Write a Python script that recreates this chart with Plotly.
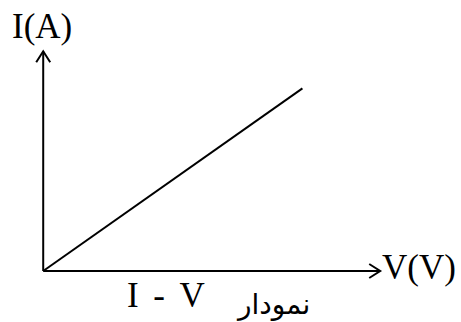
import plotly.graph_objects as go

# I-V characteristic (ohmic conductor): straight line through the origin
voltage = [0, 6.0]
current = [0, 4.2]

axis_end_v = 7.8   # where the V arrow ends
axis_end_i = 5.05  # where the I arrow ends

x_label = "V(V)"
y_label = "I(A)"
caption_en = "I - V"
caption_fa = "نمودار"

W, H = 461, 322
x_range = [-1.0, 9.67]
y_range = [-1.172, 6.23]
px_x = W / (x_range[1] - x_range[0])
px_y = H / (y_range[1] - y_range[0])


def chevron(tip_x, tip_y, direction, back=11, half=7):
    # open ">" head, sizes given in pixels
    if direction == "right":
        bx, by = back / px_x, half / px_y
        return [tip_x - bx, tip_x, tip_x - bx], [tip_y + by, tip_y, tip_y - by]
    bx, by = half / px_x, back / px_y
    return [tip_x - bx, tip_x, tip_x + bx], [tip_y - by, tip_y, tip_y - by]


fig = go.Figure()

line_style = dict(color="black", width=2)

# axes
fig.add_trace(go.Scatter(x=[0, axis_end_v], y=[0, 0], mode="lines", line=line_style))
fig.add_trace(go.Scatter(x=[0, 0], y=[0, axis_end_i], mode="lines", line=line_style))
hx, hy = chevron(axis_end_v, 0, "right")
fig.add_trace(go.Scatter(x=hx, y=hy, mode="lines", line=line_style))
hx, hy = chevron(0, axis_end_i, "up")
fig.add_trace(go.Scatter(x=hx, y=hy, mode="lines", line=line_style))

# the I-V line
fig.add_trace(go.Scatter(x=voltage, y=current, mode="lines", line=line_style))

serif = "Liberation Serif, Times New Roman, serif"


def label(text, px, py, size, family=serif):
    fig.add_annotation(x=px / W, y=1 - py / H, xref="paper", yref="paper",
                       text=text, showarrow=False, xanchor="center", yanchor="middle",
                       font=dict(family=family, size=size, color="black"))


label(y_label, 42, 26, 35)
label(x_label, 419, 267, 35)
label(caption_en.replace(" ", " \u2006"), 166, 295, 35)
label(caption_fa, 273, 304, 28, family="DejaVu Sans, Noto Sans, sans-serif")

fig.update_layout(
    width=W, height=H,
    showlegend=False,
    margin=dict(l=0, r=0, t=0, b=0),
    plot_bgcolor="white", paper_bgcolor="white",
    xaxis=dict(range=x_range, visible=False, fixedrange=True),
    yaxis=dict(range=y_range, visible=False, fixedrange=True),
)

fig.write_html("out.html", config={"displayModeBar": False},
               post_script="document.body.style.margin = '0px';")
